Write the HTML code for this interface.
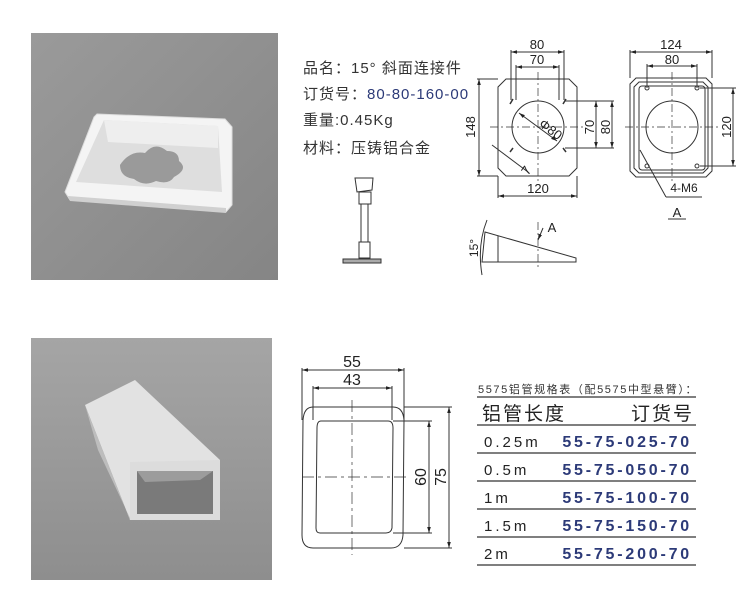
<!DOCTYPE html>
<html><head><meta charset="utf-8"><style>
body{margin:0;background:#fff;width:750px;height:592px;overflow:hidden}
svg{display:block}
text{font-family:"Liberation Sans","Noto Sans CJK SC",sans-serif}
</style></head><body>
<svg width="750" height="592" viewBox="0 0 750 592">
<defs>
<linearGradient id="g1" x1="0" y1="0" x2="1" y2="1"><stop offset="0" stop-color="#9a9a9a"/><stop offset="1" stop-color="#858585"/></linearGradient>
<linearGradient id="g2" x1="0" y1="0" x2="0" y2="1"><stop offset="0" stop-color="#a5a5a5"/><stop offset="1" stop-color="#8e8e8e"/></linearGradient>
<marker id="ar" viewBox="0 0 10 10" refX="10" refY="5" markerWidth="6" markerHeight="6" orient="auto-start-reverse"><path d="M0,2 L10,5 L0,8z" fill="#222"/></marker>
</defs>
<!-- photo 1 -->
<rect x="31" y="33" width="247" height="247" fill="url(#g1)"/>
<polygon points="97,114 225,119 232,127 232,205 226,212 70,200 65,192 94,117" fill="#f4f4f4" stroke="#ddd"/>
<polygon points="104,120 218,126 222,192 76,182" fill="#dedede"/>
<polygon points="104,120 218,126 218,148 108,142" fill="#eeeeee"/>
<path d="M120,165 q10,-15 25,-12 q10,-12 22,-2 q12,0 12,10 q10,8 -5,16 q-5,8 -18,4 q-12,6 -22,-2 q-14,-2 -14,-14z" fill="#9a9a9a"/>
<polygon points="68,196 226,208 226,213 70,201" fill="#d0d0d0"/>
<!-- photo 2 -->
<rect x="31" y="338" width="241" height="242" fill="url(#g2)"/>
<polygon points="85,405 135,380 220,460 130,520" fill="#e2e2e2"/>
<polygon points="85,405 130,520 130,518 98,450" fill="#bdbdbd"/>
<polygon points="130,462 220,460 220,520 130,520" fill="#dcdcdc"/>
<rect x="137" y="471" width="76" height="43" fill="#7a7a7a"/>
<polygon points="137,471 213,471 200,480 145,482" fill="#9c9c9c"/>

<g fill="#333" font-size="15" letter-spacing="1">
<text x="303" y="73">品名：15° 斜面连接件</text>
<text x="303" y="99">订货号：<tspan fill="#2c3a78">80-80-160-00</tspan></text>
<text x="303" y="125">重量:0.45Kg</text>
<text x="303" y="153">材料：压铸铝合金</text>
</g>

<g stroke="#333" stroke-width="1" fill="none">
<polygon points="506,79 569,79 577,87 577,168 569,176 506,176 498,168 498,87"/>
<circle cx="538" cy="127" r="26"/>
<g stroke-dasharray="8,3,2,3" stroke-width="0.7"><line x1="538" y1="72" x2="538" y2="182"/><line x1="490" y1="127" x2="585" y2="127"/></g>
<line x1="511" y1="52" x2="564" y2="52" marker-start="url(#ar)" marker-end="url(#ar)"/>
<line x1="516" y1="67" x2="559" y2="67" marker-start="url(#ar)" marker-end="url(#ar)"/>
<line x1="511" y1="50" x2="511" y2="100"/><line x1="564" y1="50" x2="564" y2="100"/>
<line x1="516" y1="65" x2="516" y2="100"/><line x1="559" y1="65" x2="559" y2="100"/>
<line x1="479" y1="79" x2="479" y2="176" marker-start="url(#ar)" marker-end="url(#ar)"/>
<line x1="477" y1="79" x2="498" y2="79"/><line x1="477" y1="176" x2="498" y2="176"/>
<line x1="596" y1="101" x2="596" y2="148" marker-start="url(#ar)" marker-end="url(#ar)"/>
<line x1="612" y1="101" x2="612" y2="148" marker-start="url(#ar)" marker-end="url(#ar)"/>
<line x1="565" y1="101" x2="614" y2="101"/><line x1="565" y1="148" x2="614" y2="148"/>
<line x1="498" y1="196" x2="577" y2="196" marker-start="url(#ar)" marker-end="url(#ar)"/>
<line x1="498" y1="176" x2="498" y2="198"/><line x1="577" y1="176" x2="577" y2="198"/>
<line x1="519" y1="113" x2="557" y2="141" marker-start="url(#ar)" marker-end="url(#ar)"/>
<line x1="492" y1="145" x2="528" y2="172"/>
<g stroke-width="1.5"><line x1="510" y1="104" x2="513" y2="99"/><line x1="563" y1="104" x2="566" y2="99"/><line x1="510" y1="152" x2="513" y2="148"/><line x1="563" y1="148" x2="566" y2="152"/></g>
<polygon points="636,78 706,78 712,84 712,171 706,177 636,177 630,171 630,84"/>
<polygon points="639,82 703,82 708,87 708,168 703,173 639,173 634,168 634,87"/>
<rect x="639" y="86" width="66" height="84" rx="3"/>
<circle cx="672" cy="127" r="26"/>
<g stroke-dasharray="8,3,2,3" stroke-width="0.7"><line x1="672" y1="72" x2="672" y2="182"/><line x1="625" y1="127" x2="720" y2="127"/></g>
<line x1="630" y1="52" x2="712" y2="52" marker-start="url(#ar)" marker-end="url(#ar)"/>
<line x1="647" y1="66" x2="697" y2="66" marker-start="url(#ar)" marker-end="url(#ar)"/>
<line x1="630" y1="50" x2="630" y2="78"/><line x1="712" y1="50" x2="712" y2="78"/>
<line x1="647" y1="64" x2="647" y2="88"/><line x1="697" y1="64" x2="697" y2="88"/>
<line x1="733" y1="88" x2="733" y2="166" marker-start="url(#ar)" marker-end="url(#ar)"/>
<line x1="700" y1="88" x2="736" y2="88"/><line x1="700" y1="166" x2="736" y2="166"/>
<line x1="640" y1="150" x2="666" y2="197"/><line x1="666" y1="197" x2="702" y2="197"/>
<line x1="668" y1="219" x2="686" y2="219"/>
<circle cx="647" cy="88" r="2"/><circle cx="697" cy="88" r="2"/><circle cx="647" cy="166" r="2"/><circle cx="697" cy="166" r="2"/>
<polygon points="485,232 576,258 576,262 482,262"/>
<line x1="498" y1="236" x2="498" y2="262"/>
<line x1="538" y1="222" x2="538" y2="270" stroke-dasharray="8,3,2,3" stroke-width="0.7"/>
<line x1="543" y1="228" x2="538" y2="240" marker-end="url(#ar)"/>
<path d="M487,220 Q477,245 482,275"/>
<polygon points="355,178 373,178 372,190 357,192"/>
<rect x="359" y="192" width="12" height="12"/>
<rect x="361" y="204" width="7" height="38"/>
<rect x="359" y="242" width="11" height="16"/>
<rect x="343" y="259" width="38" height="4" fill="#aaa"/>
<path d="M313,407 L393,407 Q403,407 404,420 L403,535 Q402,548 391,548 L313,548 Q302,548 302,535 L303,420 Q304,407 313,407Z"/>
<path d="M321,421 L388,421 Q393,421 393,428 L392,528 Q391,533 386,533 L320,533 Q316,533 316,528 L317,428 Q317,421 321,421Z"/>
<g stroke-dasharray="12,4,3,4" stroke-width="0.7"><line x1="352" y1="400" x2="352" y2="555"/><line x1="302" y1="477" x2="410" y2="477"/></g>
<line x1="302" y1="370" x2="404" y2="370" marker-start="url(#ar)" marker-end="url(#ar)"/>
<line x1="313" y1="388" x2="392" y2="388" marker-start="url(#ar)" marker-end="url(#ar)"/>
<line x1="302" y1="368" x2="302" y2="420"/><line x1="404" y1="368" x2="404" y2="420"/>
<line x1="313" y1="386" x2="313" y2="420"/><line x1="392" y1="386" x2="392" y2="420"/>
<line x1="429" y1="421" x2="429" y2="533" marker-start="url(#ar)" marker-end="url(#ar)"/>
<line x1="449" y1="407" x2="449" y2="548" marker-start="url(#ar)" marker-end="url(#ar)"/>
<line x1="393" y1="421" x2="432" y2="421"/><line x1="393" y1="533" x2="432" y2="533"/>
<line x1="404" y1="407" x2="452" y2="407"/><line x1="404" y1="548" x2="452" y2="548"/>
</g>
<g fill="#222" font-size="13" text-anchor="middle">
<text x="537" y="49">80</text><text x="537" y="64">70</text>
<text x="538" y="193">120</text>
<text transform="translate(475,127) rotate(-90)">148</text>
<text transform="translate(594,127) rotate(-90)">70</text>
<text transform="translate(610,127) rotate(-90)">80</text>
<text transform="translate(548,133) rotate(37)">Φ80</text>
<text transform="translate(530,173) rotate(-55)">7</text>
<text x="671" y="49">124</text><text x="672" y="64">80</text>
<text transform="translate(731,127) rotate(-90)">120</text>
<text x="684" y="192" font-size="12">4-M6</text>
<text x="677" y="217">A</text>
<text x="552" y="232">A</text>
<text transform="translate(478,248) rotate(-90)" font-size="12">15°</text>
<text x="352" y="367" font-size="16">55</text>
<text x="352" y="385" font-size="16">43</text>
<text transform="translate(426,477) rotate(-90)" font-size="16">60</text>
<text transform="translate(446,477) rotate(-90)" font-size="16">75</text>
</g>
<g>
<text x="478" y="393" font-size="11" fill="#333" letter-spacing="1.6">5575铝管规格表（配5575中型悬臂）：</text>
<text x="482" y="420" font-size="19" fill="#222" letter-spacing="2">铝管长度</text>
<text x="694" y="420" font-size="19" fill="#222" text-anchor="end" letter-spacing="2">订货号</text>
<g font-size="15" fill="#222" letter-spacing="3"><text x="484" y="447">0.25m</text><text x="484" y="475">0.5m</text><text x="484" y="503">1m</text><text x="484" y="531">1.5m</text><text x="484" y="559">2m</text></g>
<g font-size="16" fill="#2c3a78" font-weight="bold" text-anchor="end" letter-spacing="2.8"><text x="692" y="447">55-75-025-70</text><text x="692" y="475">55-75-050-70</text><text x="692" y="503">55-75-100-70</text><text x="692" y="531">55-75-150-70</text><text x="692" y="559">55-75-200-70</text></g>
</g>
<g stroke="#333" stroke-width="1.2"><line x1="477" y1="397" x2="696" y2="397"/><line x1="477" y1="425" x2="696" y2="425"/><line x1="477" y1="453" x2="696" y2="453"/><line x1="477" y1="481" x2="696" y2="481"/><line x1="477" y1="509" x2="696" y2="509"/><line x1="477" y1="537" x2="696" y2="537"/><line x1="477" y1="565" x2="696" y2="565"/></g>
</svg>
</body></html>
